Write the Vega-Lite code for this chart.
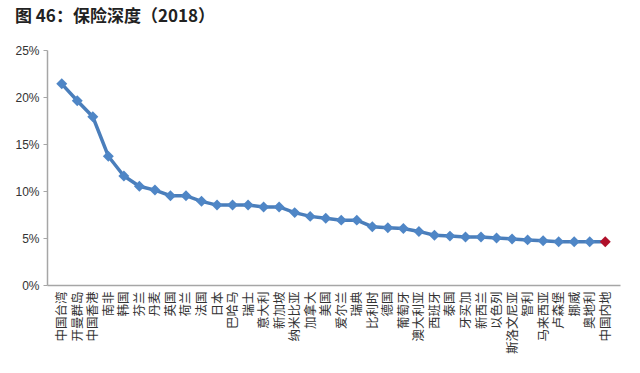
{
  "$schema": "https://vega.github.io/schema/vega-lite/v6.json",
  "width": 573,
  "height": 235,
  "padding": {"left": 14, "top": 8, "right": 10, "bottom": 5},
  "background": "white",
  "title": {
    "text": "图 46：保险深度（2018）",
    "anchor": "start",
    "frame": "bounds",
    "fontSize": 17,
    "font": "Noto Sans CJK SC",
    "fontWeight": "bold",
    "color": "#222222",
    "offset": 18,
    "dx": 0
  },
  "config": {
    "view": {"stroke": null},
    "font": "Liberation Sans"
  },
  "data": {
    "values": [
      {"country": "中国台湾", "depth": 0.214},
      {"country": "开曼群岛", "depth": 0.196},
      {"country": "中国香港", "depth": 0.179},
      {"country": "南非", "depth": 0.137},
      {"country": "韩国", "depth": 0.116},
      {"country": "芬兰", "depth": 0.105},
      {"country": "丹麦", "depth": 0.101},
      {"country": "英国", "depth": 0.095},
      {"country": "荷兰", "depth": 0.095},
      {"country": "法国", "depth": 0.089},
      {"country": "日本", "depth": 0.085},
      {"country": "巴哈马", "depth": 0.085},
      {"country": "瑞士", "depth": 0.085},
      {"country": "意大利", "depth": 0.083},
      {"country": "新加坡", "depth": 0.083},
      {"country": "纳米比亚", "depth": 0.077},
      {"country": "加拿大", "depth": 0.073},
      {"country": "美国", "depth": 0.071},
      {"country": "爱尔兰", "depth": 0.069},
      {"country": "瑞典", "depth": 0.069},
      {"country": "比利时", "depth": 0.062},
      {"country": "德国", "depth": 0.061},
      {"country": "葡萄牙", "depth": 0.060},
      {"country": "澳大利亚", "depth": 0.057},
      {"country": "西班牙", "depth": 0.053},
      {"country": "泰国", "depth": 0.052},
      {"country": "牙买加", "depth": 0.051},
      {"country": "新西兰", "depth": 0.051},
      {"country": "以色列", "depth": 0.050},
      {"country": "斯洛文尼亚", "depth": 0.049},
      {"country": "智利", "depth": 0.048},
      {"country": "马来西亚", "depth": 0.047},
      {"country": "卢森堡", "depth": 0.046},
      {"country": "挪威", "depth": 0.046},
      {"country": "奥地利", "depth": 0.046},
      {"country": "中国内地", "depth": 0.046}
    ]
  },
  "encoding": {
    "x": {
      "field": "country",
      "type": "nominal",
      "sort": null,
      "scale": {"type": "point", "padding": 0.95},
      "axis": {
        "title": null,
        "labelAngle": -90,
        "labelFont": "Noto Sans CJK SC",
        "labelFontSize": 12.5,
        "labelColor": "#333333",
        "labelPadding": 6,
        "ticks": false,
        "domainColor": "#a6a6a6",
        "domainWidth": 1.5,
        "grid": false
      }
    },
    "y": {
      "field": "depth",
      "type": "quantitative",
      "scale": {"domain": [0, 0.25]},
      "axis": {
        "title": null,
        "format": ".0%",
        "values": [0, 0.05, 0.1, 0.15, 0.2, 0.25],
        "labelFontSize": 12,
        "labelColor": "#333333",
        "labelPadding": 4,
        "tickColor": "#a6a6a6",
        "tickSize": 4,
        "domainColor": "#a6a6a6",
        "domainWidth": 1.5,
        "grid": false
      }
    }
  },
  "layer": [
    {
      "mark": {"type": "line", "color": "#4A7EBB", "strokeWidth": 3.5}
    },
    {
      "mark": {"type": "point", "shape": "diamond", "filled": true, "size": 120, "opacity": 1},
      "encoding": {
        "color": {
          "condition": {"test": "datum.country === '中国内地'", "value": "#B0102A"},
          "value": "#4F86C6"
        }
      }
    }
  ]
}
